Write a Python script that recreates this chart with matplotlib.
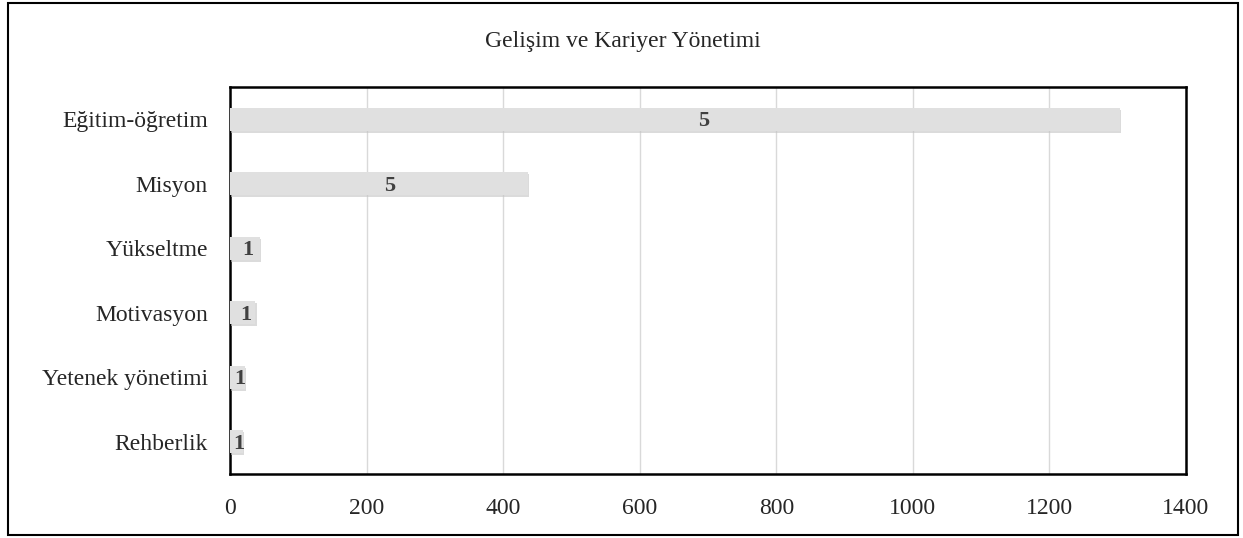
import matplotlib.pyplot as plt
import matplotlib.patheffects as pe
from matplotlib.patches import Rectangle

# Data
categories = ['Eğitim-öğretim', 'Misyon', 'Yükseltme', 'Motivasyon',
              'Yetenek yönetimi', 'Rehberlik']
values = [1303, 436, 44, 37, 22, 19]
labels = ['5', '5', '1', '1', '1', '1']
xticks = [0, 200, 400, 600, 800, 1000, 1200, 1400]

plt.rcParams['font.family'] = ['Liberation Serif', 'DejaVu Serif']

fig = plt.figure(figsize=(12.43, 5.38), dpi=100)
ax = fig.add_axes([230 / 1243, 1 - 474 / 538, 956 / 1243, 387 / 538])

# outer chart border
fig.patches.append(Rectangle((8 / 1243, 3 / 538), 1230 / 1243, 532 / 538,
                             transform=fig.transFigure, fill=False,
                             edgecolor='black', linewidth=1.5))

ypos = list(range(len(categories)))
ax.barh(ypos, values, height=0.36, color='#e0e0e0', zorder=3,
        path_effects=[pe.SimplePatchShadow(offset=(1, -1.5), shadow_rgbFace='#c4c4c4', alpha=0.6),
                      pe.Normal()])

for y, v, lab in zip(ypos, values, labels):
    ax.text(v * 0.53 + 3, y + 0.03, lab, ha='center', va='center', fontsize=16,
            fontweight='bold', color='#404040', zorder=4)

ax.set_xlim(0, 1400)
ax.set_ylim(len(categories) - 0.5, -0.5)
ax.set_yticks(ypos)
ax.set_yticklabels(categories)
ax.set_xticks(xticks)
ax.tick_params(axis='both', length=0, labelsize=17, colors='#262626')
ax.tick_params(axis='y', pad=16)
ax.tick_params(axis='x', pad=17)
ax.grid(axis='x', color='#d9d9d9', linewidth=1, zorder=0)
for s in ax.spines.values():
    s.set_linewidth(1.8)
    s.set_color('black')

fig.text(623 / 1243, 1 - 42 / 538, 'Gelişim ve Kariyer Yönetimi', ha='center',
         va='center', fontsize=17, color='#262626')

fig.savefig('out.png', dpi=100)
